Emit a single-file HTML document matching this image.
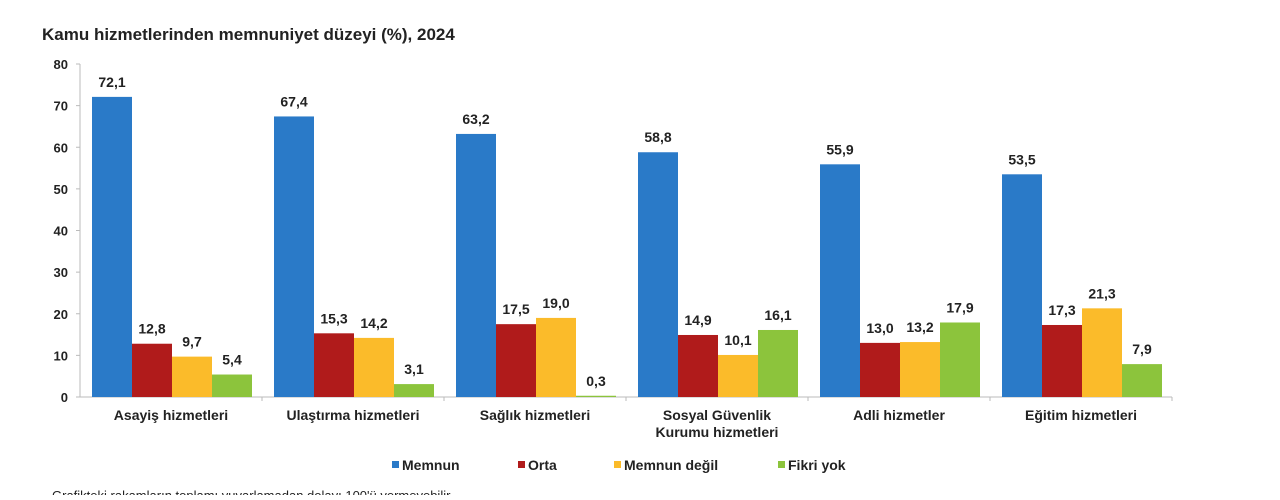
<!DOCTYPE html>
<html><head><meta charset="utf-8">
<style>
body{margin:0;background:#fff;width:1280px;height:495px;overflow:hidden;font-family:"Liberation Sans",Arial,sans-serif;}
svg text{font-family:"Liberation Sans",Arial,sans-serif;}
</style></head>
<body>
<svg id="chart" width="1280" height="495" xmlns="http://www.w3.org/2000/svg">
<text x="42" y="40" font-size="17" font-weight="bold" fill="#222">Kamu hizmetlerinden memnuniyet düzeyi (%), 2024</text>
<g id="axes"></g>
<g id="bars"></g>
<g id="legend"></g>
<text x="52" y="500" font-size="13" fill="#222">Grafikteki rakamların toplamı yuvarlamadan dolayı 100'ü vermeyebilir.</text>
</svg>
<script>
const categories=[["Asayiş hizmetleri"],["Ulaştırma hizmetleri"],["Sağlık hizmetleri"],["Sosyal Güvenlik","Kurumu hizmetleri"],["Adli hizmetler"],["Eğitim hizmetleri"]];
const seriesNames=["Memnun","Orta","Memnun değil","Fikri yok"];
const memnun=[72.1,67.4,63.2,58.8,55.9,53.5];
const orta=[12.8,15.3,17.5,14.9,13.0,17.3];
const memnunDegil=[9.7,14.2,19.0,10.1,13.2,21.3];
const fikriYok=[5.4,3.1,0.3,16.1,17.9,7.9];
const yTicks=[0,10,20,30,40,50,60,70,80];

const colors=["#2a7ac8","#b01b1b","#fbbb2a","#8cc43c"];
const series=[memnun,orta,memnunDegil,fikriYok];
const NS="http://www.w3.org/2000/svg";
const x0=80,groupW=182,y0=397,yTop=64,yMax=80;
const y=v=>y0-(v/yMax)*(y0-yTop);
function mk(tag,attrs,parent,txt){const e=document.createElementNS(NS,tag);for(const k in attrs)e.setAttribute(k,attrs[k]);if(txt!==undefined)e.textContent=txt;parent.appendChild(e);return e;}
const axes=document.getElementById('axes'),bars=document.getElementById('bars'),legend=document.getElementById('legend');
const ya=mk('line',{x1:x0,y1:yTop,x2:x0,y2:y0,stroke:'#bbb'},axes);


const xa=mk('line',{x1:x0,y1:y0,x2:x0+groupW*categories.length,y2:y0,stroke:'#bbb'},axes);


yTicks.forEach(t=>{
  mk('line',{x1:x0-4,x2:x0,y1:y(t),y2:y(t),stroke:'#bbb'},axes);
  const tl=mk('text',{x:x0-12,y:y(t)+5,'font-size':13,'font-weight':'bold','text-anchor':'end',fill:'#222'},axes,String(t));
  
  
});
categories.forEach((c,i)=>{
  const gx=x0+i*groupW;
  mk('line',{x1:gx+groupW,x2:gx+groupW,y1:y0,y2:y0+4,stroke:'#bbb'},axes);
  c.forEach((ln,j)=>{
    const cl=mk('text',{x:gx+groupW/2,y:y0+23+j*17,'font-size':14,'font-weight':'bold','text-anchor':'middle',fill:'#222'},axes,ln);
    
    
  });
  series.forEach((s,k)=>{
    const bx=gx+12+k*40,v=s[i];
    const r=mk('rect',{x:bx,y:y(v),width:40,height:y0-y(v),fill:colors[k]},bars);
    
    
    const lb=mk('text',{x:bx+20,y:y(v)-10,'font-size':14,'font-weight':'bold','text-anchor':'middle',fill:'#222'},bars,v.toFixed(1).replace('.',','));
    
    
  });
});
const lx=[395,521,617,781];
seriesNames.forEach((n,k)=>{
  const g=mk('g',{},legend);
  
  
  mk('rect',{x:lx[k]-3,y:461,width:7,height:7,fill:colors[k]},g);
  mk('text',{x:lx[k]+7,y:470,'font-size':14,'font-weight':'bold',fill:'#222'},g,n);
});
</script>
</body></html>
